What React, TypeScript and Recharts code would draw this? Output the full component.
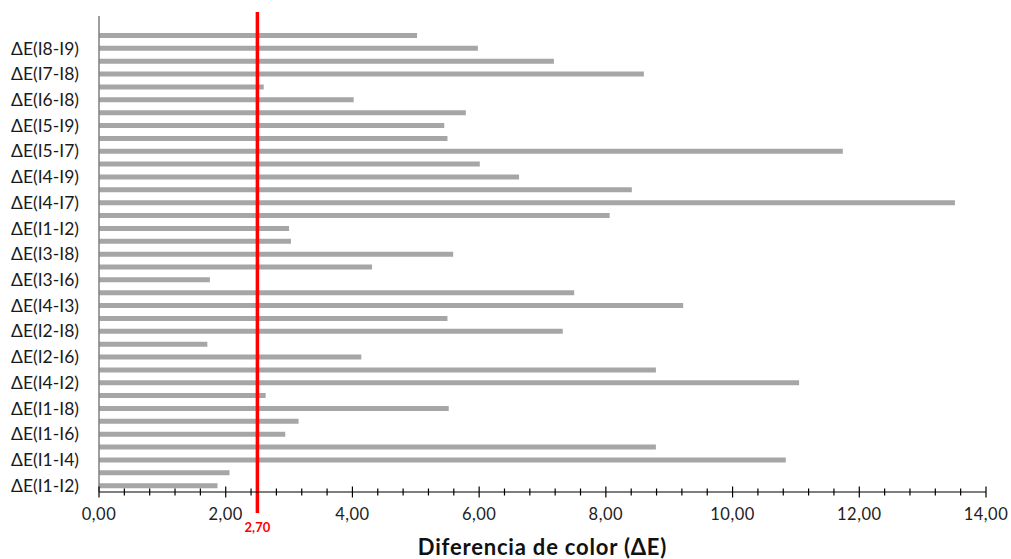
import React from 'react';
import { BarChart, Bar, XAxis, YAxis, ReferenceLine } from 'recharts';

// bottom to top, as drawn
const pairs = [
  'ΔE(I1-I2)', 'ΔE(I1-I3)', 'ΔE(I1-I4)', 'ΔE(I1-I5)', 'ΔE(I1-I6)', 'ΔE(I1-I7)',
  'ΔE(I1-I8)', 'ΔE(I1-I9)', 'ΔE(I4-I2)', 'ΔE(I2-I5)', 'ΔE(I2-I6)', 'ΔE(I2-I7)',
  'ΔE(I2-I8)', 'ΔE(I2-I9)', 'ΔE(I4-I3)', 'ΔE(I3-I5)', 'ΔE(I3-I6)', 'ΔE(I3-I7)',
  'ΔE(I3-I8)', 'ΔE(I3-I9)', 'ΔE(I1-I2)', 'ΔE(I4-I6)', 'ΔE(I4-I7)', 'ΔE(I4-I8)',
  'ΔE(I4-I9)', 'ΔE(I5-I6)', 'ΔE(I5-I7)', 'ΔE(I5-I8)', 'ΔE(I5-I9)', 'ΔE(I6-I7)',
  'ΔE(I6-I8)', 'ΔE(I6-I9)', 'ΔE(I7-I8)', 'ΔE(I7-I9)', 'ΔE(I8-I9)', 'ΔE(I2-I3)',
];

const deltaE = [
  1.87, 2.06, 10.84, 8.79, 2.94, 3.15,
  5.52, 2.63, 11.05, 8.79, 4.14, 1.71,
  7.32, 5.5, 9.22, 7.5, 1.75, 4.31,
  5.59, 3.03, 3.0, 8.06, 13.51, 8.41,
  6.63, 6.01, 11.74, 5.5, 5.45, 5.79,
  4.02, 2.6, 8.6, 7.18, 5.98, 5.02,
];

const majorTicks = [0, 2, 4, 6, 8, 10, 12, 14];
const minorStep = 0.4;
const xTicks = Array.from({ length: 36 }, (_, i) => +(i * minorStep).toFixed(1));

const threshold = 2.5;
const thresholdLabel = '2,70';

const data = pairs.map((pair, i) => ({ pair, value: deltaE[i] }));

const fmt = (v: number) => v.toFixed(2).replace('.', ',');

const XTick = ({ x, y, payload }: any) => {
  const v = payload.value;
  const major = majorTicks.some((m) => Math.abs(m - v) < 1e-6);
  const h = major ? 5.5 : 3.5;
  return (
    <g>
      <line x1={x} x2={x} y1={y - h} y2={y + h} stroke="#000" strokeWidth={1.2} />
      {major && (
        <text x={x} y={y + 28} textAnchor="middle" fontSize={16.5} fill="#222" letterSpacing={0.5}>
          {fmt(v)}
        </text>
      )}
    </g>
  );
};

const RedLine = (p: any) => {
  const top = Math.min(p.y1, p.y2);
  const bottom = Math.max(p.y1, p.y2);
  return (
    <g>
      <line x1={p.x1} x2={p.x2} y1={top - 4} y2={bottom + 21} stroke="#ff0000" strokeWidth={3.5} />
      <text x={p.x1} y={bottom + 40} textAnchor="middle" fontSize={13} fontWeight="bold" fill="#ff0000">
        {thresholdLabel}
      </text>
    </g>
  );
};

export default function App() {
  return (
    <div style={{ position: 'absolute', left: 0, top: 0, fontFamily: 'Lato, sans-serif' }}>
      <BarChart
        width={1011}
        height={559}
        data={data}
        layout="vertical"
        margin={{ top: 16, right: 25, bottom: 0, left: 0 }}
        barCategoryGap={0}
      >
        <XAxis
          type="number"
          domain={[0, 14]}
          ticks={xTicks}
          interval={0}
          tick={<XTick />}
          tickLine={false}
          tickSize={0}
          tickMargin={0}
          axisLine={{ stroke: '#000', strokeWidth: 1.2 }}
          height={67}
          label={{
            value: 'Diferencia de color (ΔE)',
            position: 'insideBottom',
            offset: 4,
            style: { fontSize: 22, fontWeight: 'bold', fill: '#111', letterSpacing: 0.8 },
          }}
        />
        <YAxis
          type="category"
          dataKey="pair"
          reversed
          interval={1}
          width={99}
          padding={{ top: 13, bottom: 0 }}
          tickLine={false}
          tickMargin={14}
          axisLine={{ stroke: '#7f7f7f', strokeWidth: 1.5 }}
          tick={{ fontSize: 17.5, fill: '#1a1a1a' }}
        />
        <Bar dataKey="value" fill="#a6a6a6" barSize={5} isAnimationActive={false} />
        <ReferenceLine x={threshold} shape={RedLine} />
      </BarChart>
    </div>
  );
}
